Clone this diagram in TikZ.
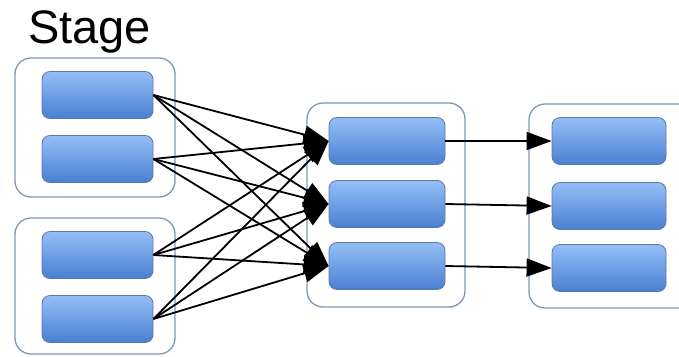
\documentclass[tikz,border=0pt]{standalone}
\usepackage{fontspec}
\setmainfont{Liberation Sans}
\usetikzlibrary{arrows.meta}
\definecolor{boxtop}{HTML}{94BEF6}
\definecolor{boxbot}{HTML}{4A80D2}
\definecolor{boxline}{HTML}{5A78A8}
\definecolor{groupline}{HTML}{7F98B4}
\begin{document}
\begin{tikzpicture}[x=1pt,y=-1pt,
  task/.style={draw=boxline,line width=0.8pt,rounded corners=8pt,
    top color=boxtop,bottom color=boxbot,minimum width=111pt,minimum height=47pt,
    inner sep=0pt},
  group/.style={draw=groupline,line width=1.3pt,rounded corners=16pt,fill=white},
  link/.style={line width=1.8pt,-{Triangle[length=25pt,width=18pt]}}]
\useasboundingbox (0,0) rectangle (679,356);
% stage containers
\draw[group] (15,58) rectangle (175,197);
\draw[group] (15,218) rectangle (175,354);
\draw[group] (307,103) rectangle (465,307);
\draw[group] (529,104) rectangle (695,308);
% left stage tasks
\node[task] (a1) at (97.5,95) {};
\node[task] (a2) at (97.5,159) {};
\node[task] (a3) at (97.5,255) {};
\node[task] (a4) at (97.5,319) {};
% middle stage tasks
\node[task,minimum width=116pt] (b1) at (387,141) {};
\node[task,minimum width=116pt] (b2) at (387,204) {};
\node[task,minimum width=116pt] (b3) at (387,266) {};
% right stage tasks
\node[task,minimum width=114pt] (c1) at (609,141) {};
\node[task,minimum width=114pt] (c2) at (609,206) {};
\node[task,minimum width=114pt] (c3) at (609,268) {};
% all-to-all shuffle between the first two stages
\foreach \s in {a1,a2,a3,a4}
  \foreach \t in {b1,b2,b3}
    \draw[link] (\s.east) -- (\t.west);
% one-to-one links into the last stage
\draw[link] (b1.east) -- (c1.west);
\draw[link] (b2.east) -- (c2.west);
\draw[link] (b3.east) -- (c3.west);
\node[font=\fontsize{47}{47}\selectfont,anchor=base west,inner sep=0pt] (title) at (28,43) {Stage};
\end{tikzpicture}
\end{document}
